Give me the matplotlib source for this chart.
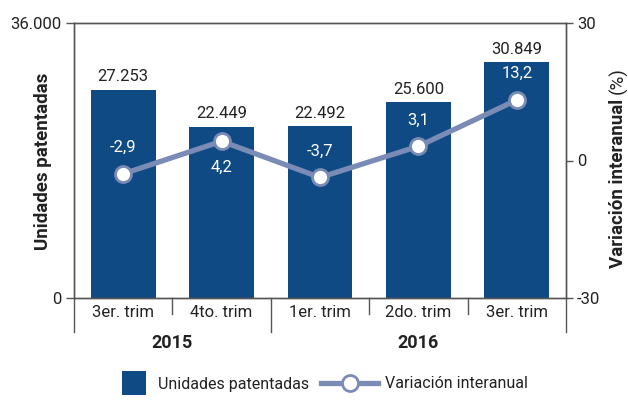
import matplotlib
matplotlib.use("Agg")
import matplotlib.pyplot as plt
from matplotlib.ticker import FuncFormatter, FixedLocator
from matplotlib.patches import Patch, Rectangle
from matplotlib.lines import Line2D
from matplotlib.legend_handler import HandlerPatch

plt.rcParams['font.family'] = ['Roboto', 'DejaVu Sans']

categories = ["3er. trim", "4to. trim", "1er. trim", "2do. trim", "3er. trim"]
years = ["2015", "2016"]
year_groups = [(0, 2), (2, 5)]  # category index ranges per year
unidades = [27253, 22449, 22492, 25600, 30849]
variacion = [-2.9, 4.2, -3.7, 3.1, 13.2]
var_label_below = [False, True, False, False, False]

BAR = "#0f4a84"
LINE = "#7a8bb6"
TXT = "#222222"

fig = plt.figure(figsize=(6.28, 4.0), dpi=100)
ax = fig.add_axes([74/628, 1-298/400, (566-74)/628, (298-23)/400])
ax2 = ax.twinx()

x = list(range(len(categories)))
ax.bar(x, unidades, width=0.66, color=BAR, zorder=2)
ax.set_xlim(-0.5, len(categories)-0.5)
ax.set_ylim(0, 36000)
ax.yaxis.set_major_locator(FixedLocator([0, 36000]))
ax.yaxis.set_major_formatter(FuncFormatter(lambda v, p: f"{int(v):,}".replace(",", ".")))

for xi, v in zip(x, unidades):
    ax.annotate(f"{v:,}".replace(",", "."), (xi, v), xytext=(0, 4), textcoords="offset points",
                ha="center", va="bottom", fontsize=12, color=TXT)

ax2.plot(x, variacion, color=LINE, lw=3.8, marker="o", ms=11.5,
         markerfacecolor="white", markeredgecolor=LINE, markeredgewidth=2, zorder=3)
ax2.set_ylim(-30, 30)
ax2.yaxis.set_major_locator(FixedLocator([-30, 0, 30]))
ax2.yaxis.set_major_formatter(FuncFormatter(lambda v, p: f"{int(v)}"))
for xi, v, below in zip(x, variacion, var_label_below):
    s = f"{v:.1f}".replace(".", ",")
    off = -19 if below else 19
    ax2.annotate(s, (xi, v), xytext=(0, off), textcoords="offset points",
                 ha="center", va="center", fontsize=12, color="white")

for a in (ax, ax2):
    for sp in a.spines.values():
        sp.set_color("#555555")
        sp.set_linewidth(1.0)
ax.tick_params(axis="y", length=6, width=1, color="#555555", labelsize=12, labelcolor=TXT, pad=3)
ax2.tick_params(axis="y", length=5, width=1, color="#555555", labelsize=12, labelcolor=TXT, pad=3)

# x axis: category labels and separators
ax.set_xticks(x)
ax.set_xticklabels(categories, fontsize=12, color=TXT)
ax.tick_params(axis="x", length=0, pad=5)
trans = ax.get_xaxis_transform()
for b in [i + 0.5 for i in range(len(categories) - 1)]:
    is_group = any(b == g[1] - 0.5 for g in year_groups[:-1])
    if not is_group:
        ax.plot([b, b], [0, -16/275], transform=trans, color="#555555", lw=1, clip_on=False)
for b in [-0.5] + [g[1] - 0.5 for g in year_groups]:
    ax.plot([b, b], [0, -34/275], transform=trans, color="#555555", lw=1, clip_on=False)
for yr, (s, e) in zip(years, year_groups):
    ax.text((s + e - 1) / 2, -45/275, yr, transform=trans, ha="center", va="center",
            fontsize=13, fontweight="bold", color=TXT)

# axis labels
fig.text(43/628, 1-161/400, "Unidades patentadas", rotation=90, ha="center", va="center",
         fontsize=13.5, fontweight="bold", color=TXT)
fig.canvas.draw()
t1 = fig.text(618/628, 1-268/400, "Variación interanual", rotation=90, ha="center", va="bottom",
              fontsize=13.5, fontweight="bold", color=TXT)
r = fig.canvas.get_renderer()
bb = t1.get_window_extent(r)
fig.text(618/628, (bb.y1 + 5) / 400, "(%)", rotation=90, ha="center", va="bottom",
         fontsize=13.5, color=TXT)

# legend (two separate legends so each handle has its own width)
class SquareHandler(HandlerPatch):
    def create_artists(self, legend, orig_handle, xdescent, ydescent, width, height, fontsize, trans):
        s = width
        p = Rectangle((-xdescent, -ydescent + height/2 - s/2), s, s,
                      facecolor=orig_handle.get_facecolor(), edgecolor="none", transform=trans)
        return [p]

h1 = Patch(facecolor=BAR)
h2 = Line2D([], [], color=LINE, lw=3.8, marker="o", ms=11.5, markerfacecolor="white",
            markeredgecolor=LINE, markeredgewidth=2)
fig.legend([h1], ["Unidades patentadas"], handler_map={Patch: SquareHandler()},
           loc="center left", bbox_to_anchor=(117/628, 1-384/400), frameon=False,
           fontsize=11.5, handlelength=1.5, handletextpad=0.75, labelcolor=TXT,
           borderaxespad=0, borderpad=0.3)
fig.legend([h2], ["Variación interanual"], loc="center left",
           bbox_to_anchor=(316/628, 1-384/400), frameon=False, fontsize=11.5,
           handlelength=3.6, handletextpad=0.4, labelcolor=TXT, borderaxespad=0, borderpad=0.3)

fig.savefig("out.png", dpi=100)
